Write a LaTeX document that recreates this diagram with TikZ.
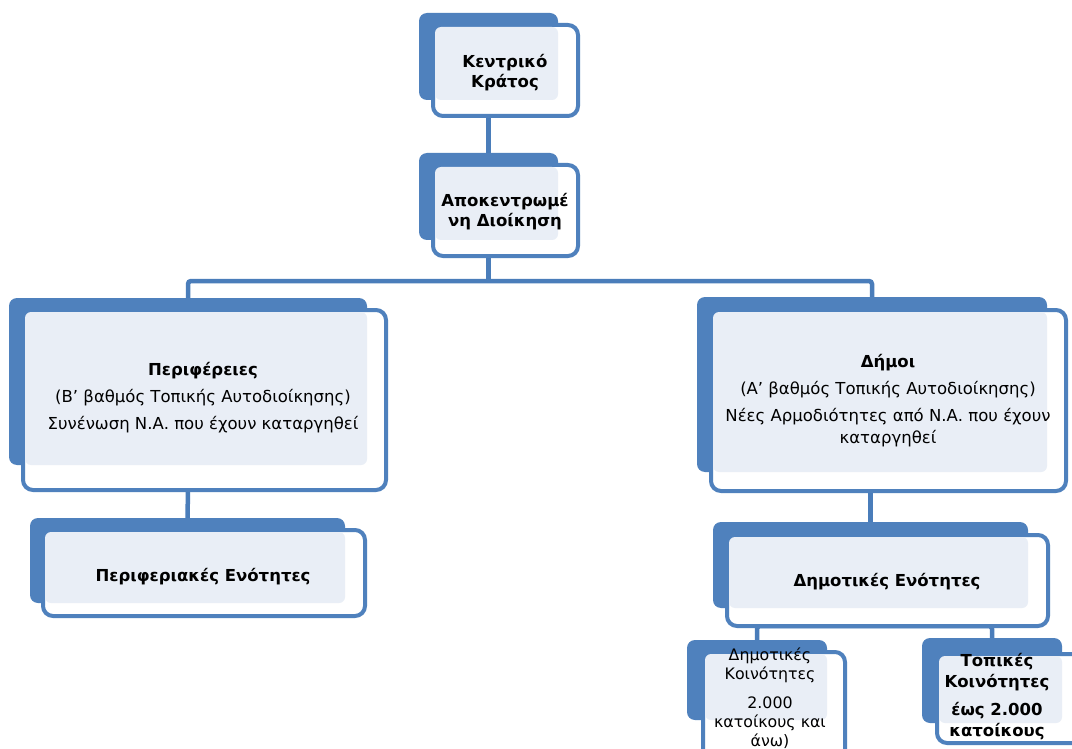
\documentclass[tikz,border=0pt]{standalone}
\usepackage{fontspec}
\setmainfont{DejaVu Sans}
\pgfdeclarelayer{background}
\pgfsetlayers{background,main}
\definecolor{acc}{HTML}{4F81BD}
\definecolor{lite}{HTML}{E9EEF6}
\definecolor{conncol}{HTML}{4A7DBA}
\tikzset{
  backbox/.style={fill=acc, rounded corners=8pt, inner sep=0pt, outer sep=0pt},
  frontbox/.style={draw=acc, line width=4pt, fill=white, rounded corners=10pt, inner sep=0pt, outer sep=0pt},
  litebox/.style={fill=lite, rounded corners=6pt},
  txt/.style={align=center, text=black, inner sep=0pt, font=\fontsize{16.5}{22}\selectfont},
  ttl/.style={align=center, text=black, inner sep=0pt, font=\fontsize{16.5}{20}\selectfont\bfseries},
  conn/.style={draw=conncol, line width=4.5pt, rounded corners=3pt}
}
\newcommand\tkbox[9]{%
  \node[backbox, minimum width={(#4-#2)*1pt}, minimum height={(#5-#3)*1pt}] (#1B) at ({(#2+#4)/2},{(#3+#5)/2}) {};
  \node[frontbox, minimum width={(#8-#6)*1pt}, minimum height={(#9-#7)*1pt}] (#1F) at ({(#6+#8)/2},{(#7+#9)/2}) {};
  \fill[litebox] ({#6+2},{#7+2}) rectangle (#4,#5);
}
\begin{document}
\begin{tikzpicture}[x=1pt,y=-1pt]
\useasboundingbox (0,0) rectangle (1072,749);
\clip (0,0) rectangle (1072,749);

\tkbox{k}{419}{13}{558}{100}{433}{25}{578}{116}
\tkbox{a}{419}{153}{558}{240}{433}{165}{578}{256}
\tkbox{p}{9}{298}{367}{465}{23}{310}{386}{490}
\tkbox{d}{697}{297}{1047}{472}{711}{310}{1066}{491}
\tkbox{r}{30}{518}{345}{603}{43}{530}{365}{616}
\tkbox{e}{713}{522}{1028}{608}{727}{535}{1048}{626}
\tkbox{c}{687}{640}{827}{720}{703}{652}{845}{763}
\tkbox{t}{922}{638}{1062}{723}{937}{654}{1083}{743}

\node[ttl] (kT) at (505,73) {Κεντρικό\\Κράτος};
\node[ttl] (aT) at (505,212) {Αποκεντρωμέ\\νη Διοίκηση};
\node[txt] (pT) at (203,398) {\textbf{Περιφέρειες}\\[5pt](Β' βαθμός Τοπικής Αυτοδιοίκησης)\\[5pt]Συνένωση Ν.Α. που έχουν καταργηθεί};
\node[txt] (dT) at (888,401) {\textbf{Δήμοι}\\[5pt](Α' βαθμός Τοπικής Αυτοδιοίκησης)\\[5pt]Νέες Αρμοδιότητες από Ν.Α. που έχουν\\καταργηθεί};
\node[ttl] (rT) at (203,577) {Περιφεριακές Ενότητες};
\node[ttl] (eT) at (887,582) {Δημοτικές Ενότητες};
\node[txt, font=\fontsize{15.8}{19}\selectfont] (cT) at (770,698) {Δημοτικές\\Κοινότητες\\[10pt]2.000\\κατοίκους και\\άνω)};
\node[ttl, font=\fontsize{16.5}{21}\selectfont\bfseries] (tT) at (997,697) {Τοπικές\\Κοινότητες\\[7pt]έως 2.000\\κατοίκους};

\coordinate (j1) at (488.5,281);
\begin{pgfonlayer}{background}
\fill[white] (0,0) rectangle (1072,749);
\draw[conn] (kF.south -| kB.south) -- (aB.north);
\draw[conn] (aF.south -| aB.south) -- (j1);
\draw[conn] (pB.north) |- (j1) -| (dB.north);
\draw[conn] (pF.south -| pB.south) -- (rB.north);
\draw[conn] (eB.north |- dF.south) -- (eB.north);
\draw[conn] (cB.north) |- (eF.south) -| (tB.north);
\end{pgfonlayer}
\end{tikzpicture}
\end{document}
